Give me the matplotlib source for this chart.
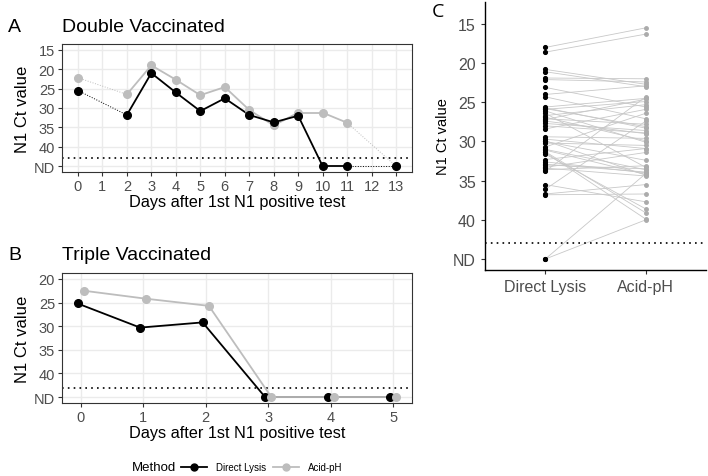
import numpy as np
import matplotlib.pyplot as plt

plt.rcParams['font.family'] = ['Liberation Sans', 'DejaVu Sans']

# ND (not detected) is drawn at 45
ND = 45

# A - double vaccinated
days_a = [0, 2, 3, 4, 5, 6, 7, 8, 9, 10, 11, 13]
dl_a = [25.5, 31.8, 21.0, 26.0, 30.8, 27.5, 31.8, 33.7, 32.0, ND, ND, ND]
ap_a = [22.2, 26.5, 19.0, 22.7, 26.7, 24.6, 30.5, 34.5, 31.2, 31.2, 33.8, ND]

# B - triple vaccinated
days_b = [0, 1, 2, 3, 4, 5]
dl_b = [25.2, 30.3, 29.2, ND, ND, ND]
ap_b = [22.5, 24.2, 25.7, ND, ND, ND]

# C - paired samples
pair_dl = [18.0, 18.6, 20.8, 21.1, 21.9, 22.1, 23.1, 24.0, 24.3, 25.6, 25.8, 26.1,
           26.4, 26.7, 27.1, 27.4, 27.7, 28.4, 29.4, 29.9, 30.2, 30.7, 31.0, 31.3,
           31.6, 32.3, 32.6, 32.9, 33.3, 33.6, 33.8, 35.5, 36.1, 36.7, 36.8, ND, ND,
           25.9, 26.9, 28.0, 30.0, 31.1, 33.0, 31.4, 27.2, 29.7, 25.7, 33.4]
pair_ap = [15.5, 16.3, 22.7, 23.0, 22.0, 22.4, 25.6, 22.9, 27.1, 24.5, 28.1, 30.1,
           33.3, 25.3, 27.8, 29.0, 28.6, 25.9, 29.6, 34.3, 30.5, 26.4, 33.6, 39.1,
           38.6, 30.9, 34.0, 33.9, 31.4, 33.1, 24.3, 37.7, 27.4, 35.5, 36.7, 34.1, 40.0,
           24.9, 29.9, 28.9, 32.4, 34.2, 33.5, 39.9, 24.6, 30.9, 28.3, 34.4]

ytick_vals = [15, 20, 25, 30, 35, 40, ND]
ytick_labs = ['15', '20', '25', '30', '35', '40', 'ND']

black = 'black'
grey = '#BDBDBD'
tickc = '#4D4D4D'


def draw_series(ax, x, y, col, dx=0.0):
    x = np.array(x) + dx
    y = np.array(y)
    for i in range(len(x) - 1):
        gap = round(x[i + 1] - x[i]) > 1
        if gap:
            ax.plot(x[i:i + 2], y[i:i + 2], color=col, lw=0.7, ls=':', zorder=2)
        else:
            ax.plot(x[i:i + 2], y[i:i + 2], color=col, lw=1.3, zorder=2)


def bw_style(ax):
    ax.grid(True, color='#EBEBEB', lw=1.0, zorder=0)
    ax.set_axisbelow(True)
    for s in ax.spines.values():
        s.set_color('#333333')
        s.set_linewidth(0.8)
    ax.tick_params(colors='#333333', labelcolor=tickc, labelsize=10.5, length=3, width=0.8, pad=2)
    ax.axhline(43, color='black', ls=(0, (1, 2.5)), lw=1.2, zorder=1)
    ax.set_ylabel('N1 Ct value', fontsize=12, labelpad=3)
    ax.set_xlabel('Days after 1st N1 positive test', fontsize=11.7, labelpad=1)


fig = plt.figure(figsize=(7.08, 4.77), dpi=100)

# panel A
axA = fig.add_axes([62 / 708, 1 - 173 / 477, 350 / 708, 128 / 477])
bw_style(axA)
draw_series(axA, days_a, ap_a, grey)
draw_series(axA, days_a, dl_a, black)
axA.plot(days_a, ap_a, 'o', color=grey, ms=5.5, zorder=3)
axA.plot(days_a, dl_a, 'o', color=black, ms=5.5, zorder=4)
axA.set_xlim(-0.65, 13.65)
axA.set_ylim(46.5, 13.5)
axA.set_xticks(range(14))
axA.set_yticks(ytick_vals)
axA.set_yticklabels(ytick_labs)

# panel B
axB = fig.add_axes([62 / 708, 1 - 404 / 477, 350 / 708, 130 / 477])
bw_style(axB)
draw_series(axB, days_b, dl_b, black, -0.05)
draw_series(axB, days_b, ap_b, grey, 0.05)
axB.plot(np.array(days_b) - 0.05, dl_b, 'o', color=black, ms=5.5, zorder=3)
axB.plot(np.array(days_b) + 0.05, ap_b, 'o', color=grey, ms=5.5, zorder=4)
axB.set_xlim(-0.3, 5.3)
axB.set_ylim(46.25, 18.75)
axB.set_xticks(days_b)
axB.set_yticks(ytick_vals[1:])
axB.set_yticklabels(ytick_labs[1:])

# panel C
axC = fig.add_axes([485 / 708, 1 - 271 / 477, 221 / 708, 268 / 477])
for a, b in zip(pair_dl, pair_ap):
    axC.plot([1, 2], [a, b], color='#C8C8C8', lw=0.6, zorder=1)
axC.plot(np.ones(len(pair_dl)), pair_dl, 'o', color='black', ms=2.7, zorder=3)
axC.plot(np.full(len(pair_ap), 2), pair_ap, 'o', color='#ABABAB', ms=2.5, zorder=3)
axC.axhline(43, color='black', ls=(0, (1, 2.5)), lw=1.2, zorder=2)
axC.set_xlim(0.4, 2.6)
axC.set_ylim(46.4, 12.2)
axC.set_xticks([1, 2])
axC.set_xticklabels(['Direct Lysis', 'Acid-pH'])
axC.set_yticks(ytick_vals)
axC.set_yticklabels(ytick_labs)
axC.spines['top'].set_visible(False)
axC.spines['right'].set_visible(False)
axC.spines['left'].set_linewidth(1.0)
axC.spines['bottom'].set_linewidth(1.0)
axC.tick_params(colors='#333333', labelcolor=tickc, labelsize=11.5, length=3, width=0.8)
axC.set_ylabel('N1 Ct value', fontsize=10.5, labelpad=2)

# panel letters and titles
fig.text(8 / 708, 1 - 27 / 477, 'A', fontsize=14, va='center')
fig.text(62 / 708, 1 - 27 / 477, 'Double Vaccinated', fontsize=14, va='center')
fig.text(8 / 708, 1 - 255 / 477, 'B', fontsize=14, va='center')
fig.text(62 / 708, 1 - 255 / 477, 'Triple Vaccinated', fontsize=14, va='center')
fig.text(432 / 708, 1 - 12 / 477, 'C', fontsize=14, va='center', family=['Open Sans', 'DejaVu Sans'])

# legend
h1, = axA.plot([], [], '-o', color=black, ms=5, lw=1.3)
h2, = axA.plot([], [], '-o', color=grey, ms=5, lw=1.3)
fig.text(132 / 708, 1 - 468 / 477, 'Method', fontsize=9.5, va='center')
fig.legend([h1, h2], ['Direct Lysis', 'Acid-pH'], ncol=2, loc='center left',
           bbox_to_anchor=(177 / 708, 1 - 468 / 477), frameon=False, fontsize=7,
           handlelength=2.7, columnspacing=0.7, handletextpad=0.9, borderaxespad=0)

fig.savefig('out.png', dpi=100)
